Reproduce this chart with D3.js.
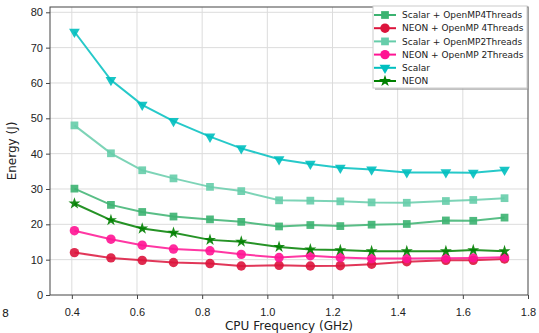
<!DOCTYPE html>
<html>
<head>
<meta charset="utf-8">
<script src="https://cdn.jsdelivr.net/npm/d3@7"></script>
<style>
  body { margin: 0; background: #fff; }
  svg { font-family: "DejaVu Sans", sans-serif; }
  .grid line { stroke: #dcdcdc; stroke-width: 1; }
  .axis path, .axis line { stroke: #444; }
  .axis text { fill: #222; font-size: 11px; }
</style>
</head>
<body>
<div id="viz"></div>
<script>
'use strict';

// CPU frequencies (GHz)
var freqs = [0.408, 0.52, 0.616, 0.712, 0.824, 0.92, 1.036, 1.132, 1.224, 1.32, 1.428, 1.548, 1.632, 1.728];

// energy (J) per configuration
var scalarOmp4 = [30.1, 25.5, 23.5, 22.2, 21.4, 20.7, 19.4, 19.8, 19.5, 19.9, 20.1, 21.1, 21.0, 21.9];
var neonOmp4 = [12.0, 10.5, 9.8, 9.2, 8.9, 8.2, 8.4, 8.2, 8.3, 8.7, 9.4, 9.8, 9.8, 10.2];
var scalarOmp2 = [48.0, 40.1, 35.3, 33.0, 30.6, 29.4, 26.8, 26.7, 26.5, 26.2, 26.1, 26.6, 26.9, 27.4];
var neonOmp2 = [18.2, 15.8, 14.1, 13.0, 12.5, 11.5, 10.6, 11.1, 10.6, 10.3, 10.3, 10.4, 10.5, 10.7];
var scalar = [74.5, 60.8, 53.8, 49.2, 44.8, 41.5, 38.4, 37.1, 36.0, 35.5, 34.7, 34.7, 34.6, 35.4];
var neon = [25.9, 21.2, 18.8, 17.6, 15.6, 15.1, 13.6, 12.9, 12.7, 12.4, 12.4, 12.4, 12.7, 12.4];

var xTicks = [0.4, 0.6, 0.8, 1.0, 1.2, 1.4, 1.6, 1.8];
var yTicks = [0, 10, 20, 30, 40, 50, 60, 70, 80];

var series = [
    {name: 'Scalar + OpenMP4Threads', values: scalarOmp4, color: '#3cb371', symbol: d3.symbolSquare, size: 60, rot: 0},
    {name: 'NEON + OpenMP 4Threads', values: neonOmp4, color: '#dc143c', symbol: d3.symbolCircle, size: 70, rot: 0},
    {name: 'Scalar + OpenMP2Threads', values: scalarOmp2, color: '#66cdaa', symbol: d3.symbolSquare, size: 60, rot: 0},
    {name: 'NEON + OpenMP 2Threads', values: neonOmp2, color: '#ff1493', symbol: d3.symbolCircle, size: 70, rot: 0},
    {name: 'Scalar', values: scalar, color: '#00bfbf', symbol: d3.symbolTriangle, size: 50, rot: 180},
    {name: 'NEON', values: neon, color: '#008000', symbol: d3.symbolStar, size: 45, rot: 0}
];

var W = 539, H = 333;
var margin = {left: 50, right: 11, top: 7, bottom: 38};

var svg = d3.select('#viz').append('svg')
    .attr('width', W)
    .attr('height', H);

var x = d3.scaleLinear()
    .domain([0.333, 1.8])
    .range([margin.left, W - margin.right]);
var y = d3.scaleLinear()
    .domain([0, 81.5])
    .range([H - margin.bottom, margin.top]);

// grid
var grid = svg.append('g').attr('class', 'grid');
grid.selectAll('.gx')
    .data(xTicks.slice(0, -1))
    .enter().append('line')
    .attr('x1', d => x(d)).attr('x2', d => x(d))
    .attr('y1', y.range()[0]).attr('y2', y.range()[1]);
grid.selectAll('.gy')
    .data(yTicks.slice(1))
    .enter().append('line')
    .attr('y1', d => y(d)).attr('y2', d => y(d))
    .attr('x1', x.range()[0]).attr('x2', x.range()[1]);

// frame
svg.append('rect')
    .attr('x', x.range()[0]).attr('y', y.range()[1])
    .attr('width', x.range()[1] - x.range()[0])
    .attr('height', y.range()[0] - y.range()[1])
    .attr('fill', 'none')
    .attr('stroke', '#444')
    .attr('stroke-width', 1);

var xAxis = svg.append('g')
    .attr('class', 'axis')
    .attr('transform', 'translate(0,' + (H - margin.bottom) + ')')
    .call(d3.axisBottom(x).tickValues(xTicks).tickFormat(d3.format('.1f')).tickSize(4).tickPadding(9));
xAxis.select('.domain').remove();

var yAxis = svg.append('g')
    .attr('class', 'axis')
    .attr('transform', 'translate(' + margin.left + ',0)')
    .call(d3.axisLeft(y).tickValues(yTicks).tickSize(4).tickPadding(3));
yAxis.select('.domain').remove();

// leftover tick label at the left edge, as in the reference
svg.append('text')
    .attr('x', 2).attr('y', H - margin.bottom + 22)
    .attr('font-size', 11)
    .attr('fill', '#222')
    .text('8');

svg.append('text')
    .attr('x', (x.range()[0] + x.range()[1]) / 2)
    .attr('y', H - 3)
    .attr('text-anchor', 'middle')
    .attr('font-size', 12)
    .attr('fill', '#222')
    .text('CPU Frequency (GHz)');

svg.append('text')
    .attr('transform', 'translate(16,' + ((y.range()[0] + y.range()[1]) / 2) + ') rotate(-90)')
    .attr('text-anchor', 'middle')
    .attr('font-size', 12)
    .attr('fill', '#222')
    .text('Energy (J)');

// lines and markers
var line = d3.line()
    .x((d, i) => x(freqs[i]))
    .y(d => y(d));

series.forEach(function(s) {
    var g = svg.append('g');
    g.append('path')
        .attr('d', line(s.values))
        .attr('fill', 'none')
        .attr('stroke', s.color)
        .attr('stroke-width', 2)
        .attr('stroke-opacity', 0.85);
    g.selectAll('path.mk')
        .data(s.values)
        .enter().append('path')
        .attr('class', 'mk')
        .attr('d', d3.symbol().type(s.symbol).size(s.size))
        .attr('transform', (d, i) => 'translate(' + x(freqs[i]) + ',' + y(d) + ') rotate(' + s.rot + ')')
        .attr('fill', s.color)
        .attr('fill-opacity', 0.9);
});

// legend
var lg = svg.append('g').attr('transform', 'translate(373,6)');
var lgW = 154, lgH = 82;
lg.append('rect')
    .attr('x', 2).attr('y', 2)
    .attr('width', lgW).attr('height', lgH)
    .attr('fill', '#999').attr('fill-opacity', 0.6);
lg.append('rect')
    .attr('width', lgW).attr('height', lgH)
    .attr('fill', '#fff')
    .attr('stroke', '#ccc');
var item = lg.selectAll('g.item')
    .data(series)
    .enter().append('g')
    .attr('class', 'item')
    .attr('transform', (d, i) => 'translate(0,' + (9 + i * 13.2) + ')');
item.append('line')
    .attr('x1', 1).attr('x2', 23)
    .attr('stroke', d => d.color)
    .attr('stroke-width', 2);
item.append('path')
    .attr('d', d => d3.symbol().type(d.symbol).size(d.size)())
    .attr('transform', d => 'translate(12,0) rotate(' + d.rot + ')')
    .attr('fill', d => d.color);
item.append('text')
    .attr('x', 29)
    .attr('dy', '0.35em')
    .attr('font-size', 9)
    .attr('fill', '#222')
    .text(d => d.name);
</script>
</body>
</html>
